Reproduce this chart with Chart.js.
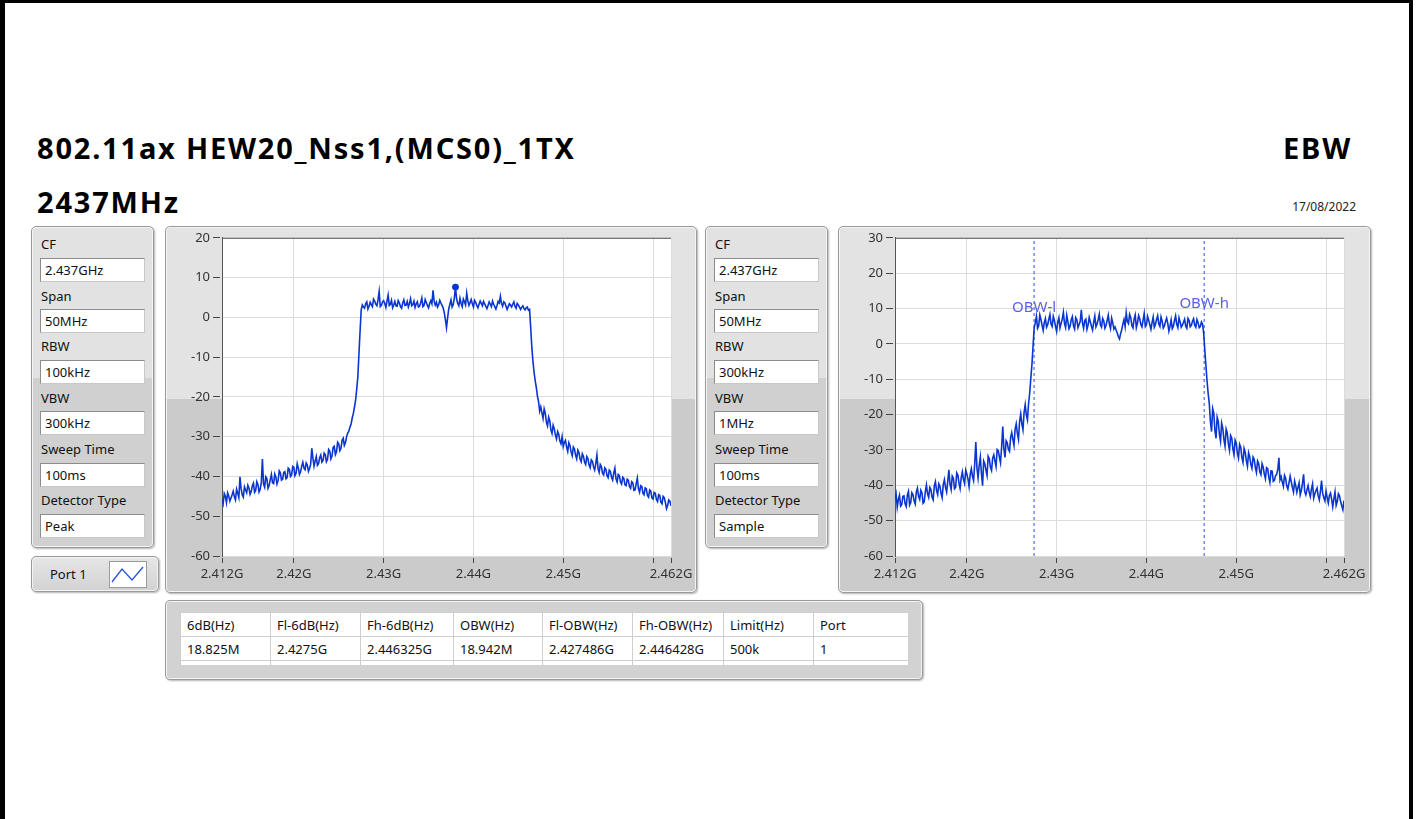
<!DOCTYPE html>
<html>
<head>
<meta charset="utf-8">
<title>EBW 802.11ax HEW20</title>
<script src="https://cdn.jsdelivr.net/npm/chart.js@4.4.1/dist/chart.umd.min.js"></script>
<style>
  html, body { margin: 0; padding: 0; background: #fff; }
  body { width: 1419px; height: 819px; position: relative; overflow: hidden; font-family: 'Noto Sans', 'Open Sans', sans-serif; color: #111; }
  .frame { position: absolute; left: 0; top: 0; width: 1413px; height: 840px; box-sizing: border-box; border-left: 5px solid #000; border-top: 3px solid #000; border-right: 4px solid #000; }
  .title { position: absolute; font-weight: 700; font-size: 29px; line-height: 29px; letter-spacing: 1.8px; white-space: nowrap; color: #000; }
  .date { position: absolute; font-size: 12px; line-height: 12px; right: 63px; top: 201px; color: #222; }
  .panel { position: absolute; box-sizing: border-box; border: 1px solid #9a9a9a; border-radius: 5px; box-shadow: inset 0 0 0 1px #f4f4f4, 1px 1px 2px rgba(0,0,0,0.3); }
  .params { top: 226px; width: 123px; height: 322px; background: linear-gradient(to bottom, #e2e2e2 0, #e2e2e2 151px, #d0d0d0 151px); }
  .params .lbl { position: absolute; left: 9px; font-size: 13px; line-height: 18px; color: #111; }
  .params .box { position: absolute; left: 8px; width: 105px; height: 24px; box-sizing: border-box; background: #fff; border: 1px solid #8c8c8c; border-right-color: #c8c8c8; border-bottom-color: #c8c8c8; font-size: 13px; line-height: 22px; padding-left: 4px; color: #111; }
  .chartpanel { top: 226px; height: 367px; background: linear-gradient(to bottom, #e3e3e3 0, #e3e3e3 172px, #cbcbcb 172px); }
  .chartpanel canvas { position: absolute; left: 0; top: 0; }
  .port { left: 31px; top: 556px; width: 128px; height: 36px; background: linear-gradient(to bottom, #e6e6e6, #d2d2d2); }
  .port span { position: absolute; left: 18px; top: 8px; font-size: 13px; line-height: 18px; }
  .port svg { position: absolute; left: 77px; top: 4px; }
  .tablepanel { left: 165px; top: 600px; width: 758px; height: 80px; background: #d2d2d2; }
  table { position: absolute; left: 14px; top: 11px; border-collapse: collapse; background: #fff; font-size: 13px; color: #111; }
  td { border: 1px solid #cfcfcf; height: 24px; padding: 0 0 0 6px; white-space: nowrap; box-sizing: border-box; }
  tr.stub td { height: 4px; border-bottom: none; }
</style>
</head>
<body>
<div class="frame"></div>

<div class="title" style="left:37px; top:133px;">802.11ax HEW20_Nss1,(MCS0)_1TX</div>
<div class="title" style="left:37px; top:187px;">2437MHz</div>
<div class="title" style="right:67px; top:133px;">EBW</div>
<div class="date">17/08/2022</div>

<div class="panel params" id="params-left" style="left:31px;"></div>
<div class="panel params" id="params-mid" style="left:705px;"></div>

<div class="panel port">
  <span>Port 1</span>
  <svg width="38" height="27" viewBox="0 0 38 27">
    <rect x="0.5" y="0.5" width="37" height="26" fill="#fff" stroke="#9a9a9a"/>
    <polyline points="3,21 13,8 23,19 34,6" fill="none" stroke="#2a52d6" stroke-width="1.3"/>
  </svg>
</div>

<div class="panel chartpanel" style="left:165px; width:532px;">
  <canvas id="chartPeak" width="530" height="365"></canvas>
</div>
<div class="panel chartpanel" style="left:838px; width:533px;">
  <canvas id="chartSample" width="531" height="365"></canvas>
</div>

<div class="panel tablepanel">
  <table id="resultTable"></table>
</div>

<script>
// sweep setup (x positions of the trace points)
const freqStartGHz = 2.412;
const freqStepGHz = 0.000125;

// Peak detector trace, RBW 100kHz (dBm)
const peakTraceDbm = [
  -45.8, -46.9, -44.3, -45.0, -46.6, -44.1, -44.9, -46.2, -45.4, -44.6,
  -43.7, -45.1, -45.9, -43.2, -44.2, -45.3, -40.1, -43.0, -44.6, -45.2,
  -42.6, -43.4, -44.1, -42.2, -42.9, -44.5, -43.8, -42.4, -41.7, -44.0,
  -43.5, -41.3, -42.0, -43.9, -43.2, -41.6, -35.6, -41.9, -42.7, -40.1,
  -40.6, -43.0, -42.3, -40.8, -39.5, -41.6, -41.8, -39.4, -40.2, -41.9,
  -41.0, -38.6, -39.1, -40.9, -40.7, -39.0, -38.8, -40.6, -40.3, -37.9,
  -38.2, -40.0, -39.6, -37.5, -37.7, -39.8, -39.2, -36.8, -37.9, -39.5,
  -38.8, -37.4, -36.4, -37.9, -38.3, -36.6, -37.1, -38.7, -38.0, -36.9,
  -32.9, -35.4, -37.4, -36.1, -35.0, -37.2, -36.8, -35.3, -34.6, -36.4,
  -36.0, -34.1, -34.5, -36.3, -35.7, -33.2, -33.6, -35.6, -34.9, -32.7,
  -32.4, -34.5, -33.8, -31.4, -31.8, -33.5, -32.9, -30.9, -30.4, -32.2,
  -31.5, -30.0, -29.1, -28.6, -27.6, -26.8, -25.3, -24.2, -22.6, -20.9,
  -18.1, -15.0, -9.2, -3.5, 1.9, 3.1, 2.6, 2.3, 3.4, 3.9,
  2.1, 2.8, 3.8, 3.2, 2.7, 4.6, 4.1, 3.3, 2.9, 4.4,
  6.5, 2.7, 3.0, 3.9, 4.2, 3.5, 2.5, 4.1, 5.6, 3.0,
  3.3, 4.3, 2.4, 3.1, 4.0, 2.9, 2.8, 4.2, 3.6, 2.7,
  2.3, 3.6, 4.4, 3.0, 3.1, 4.0, 2.6, 3.5, 4.7, 2.9,
  3.2, 4.1, 2.5, 3.4, 3.9, 2.6, 2.8, 3.7, 4.9, 2.7,
  3.0, 4.5, 3.7, 3.0, 2.4, 3.5, 4.2, 3.4, 6.8, 4.0,
  3.1, 3.8, 2.6, 3.2, 4.3, 3.6, 3.0, 2.4, 1.2, -0.5,
  -2.6, -0.1, 2.1, 3.3, 4.4, 2.6, 3.2, 4.9, 7.6, 4.6,
  3.5, 2.9, 4.8, 3.5, 2.7, 4.6, 3.9, 3.1, 6.1, 4.2,
  3.0, 3.7, 4.5, 3.4, 2.6, 4.3, 3.8, 3.0, 2.4, 3.3,
  4.1, 3.5, 2.9, 4.0, 3.4, 2.8, 2.2, 3.0, 3.9, 3.3,
  2.7, 4.1, 3.3, 2.7, 2.1, 3.0, 4.0, 3.6, 5.3, 3.5,
  2.8, 3.9, 3.6, 2.8, 2.0, 2.7, 3.4, 3.1, 2.6, 3.3,
  3.9, 2.8, 2.3, 3.5, 3.1, 2.6, 2.0, 2.5, 2.9, 2.2,
  1.9, 2.4, 2.6, 1.8, 2.0, -2.5, -7.5, -11.0, -13.8, -15.9,
  -17.6, -19.8, -21.2, -23.6, -22.5, -24.0, -25.4, -23.0, -24.1, -26.4,
  -27.3, -25.1, -26.0, -28.3, -29.2, -27.1, -28.0, -29.6, -30.6, -28.7,
  -29.4, -31.1, -31.8, -30.0, -32.5, -31.4, -30.9, -32.6, -33.7, -31.5,
  -32.2, -33.9, -34.8, -32.6, -33.1, -34.7, -35.6, -33.4, -34.0, -35.6,
  -36.3, -34.3, -34.9, -36.4, -37.0, -35.0, -35.5, -37.1, -37.8, -35.8,
  -36.2, -37.6, -38.4, -36.7, -34.6, -38.1, -39.0, -37.0, -37.5, -39.2,
  -39.6, -37.8, -38.2, -39.8, -40.3, -38.4, -38.7, -40.2, -40.9, -39.1,
  -37.9, -40.6, -41.4, -39.5, -39.8, -41.4, -41.9, -40.2, -40.5, -42.1,
  -42.3, -40.7, -41.0, -42.6, -43.0, -41.3, -41.6, -43.5, -43.4, -41.8,
  -40.4, -43.1, -44.0, -42.3, -42.5, -44.2, -44.6, -42.9, -43.1, -44.8,
  -45.2, -43.4, -43.7, -45.4, -45.7, -44.0, -44.2, -45.8, -46.3, -44.6,
  -44.8, -46.5, -46.9, -45.0, -45.3, -46.6, -48.1, -47.3, -45.9, -46.2,
  -47.4
];

// Sample detector trace, RBW 300kHz (dBm)
const sampleTraceDbm = [
  -44.1, -42.5, -46.2, -44.0, -42.8, -45.9, -45.5, -43.1, -43.0, -45.2,
  -46.0, -42.8, -41.7, -45.6, -44.9, -42.1, -42.6, -44.4, -45.3, -41.9,
  -40.8, -43.2, -44.0, -41.4, -42.1, -45.1, -44.7, -41.8, -39.9, -42.4,
  -43.4, -40.6, -41.2, -43.3, -44.1, -40.2, -39.0, -41.5, -42.6, -39.6,
  -40.3, -42.2, -43.5, -39.8, -38.4, -40.6, -41.9, -38.9, -35.6, -39.7,
  -41.2, -37.4, -38.0, -41.0, -40.6, -36.5, -37.1, -39.4, -40.9, -37.8,
  -36.2, -38.4, -39.5, -35.7, -36.8, -38.2, -40.4, -36.9, -35.3, -37.5,
  -38.7, -34.0, -27.8, -35.1, -37.9, -34.4, -32.0, -36.6, -40.1, -33.1,
  -33.9, -35.7, -37.2, -31.8, -32.5, -34.9, -35.8, -32.3, -31.4, -33.1,
  -34.7, -29.9, -30.2, -32.0, -33.6, -29.1, -23.4, -29.7, -32.1, -27.4,
  -28.0, -29.8, -30.4, -26.5, -25.1, -27.0, -28.7, -24.2, -22.6, -25.3,
  -27.0, -21.9, -19.8, -22.6, -24.3, -19.4, -17.2, -20.1, -21.5, -16.8,
  -13.9, -9.7, -5.8, -0.6, 4.6, 6.0, 7.8, 4.4, 5.1, 8.2,
  6.9, 5.3, 3.8, 6.1, 7.2, 4.7, 5.4, 6.9, 8.3, 5.6,
  4.9, 7.8, 6.6, 4.9, 3.5, 6.2, 7.4, 4.5, 5.8, 7.0,
  8.9, 5.7, 4.6, 8.1, 6.3, 4.3, 5.0, 6.8, 7.7, 5.1,
  4.2, 7.4, 6.8, 4.6, 5.5, 6.4, 9.6, 5.9, 4.4, 6.6,
  7.0, 4.1, 5.3, 7.5, 6.2, 5.0, 3.9, 6.1, 7.9, 4.8,
  5.6, 6.9, 8.4, 5.3, 4.7, 7.2, 6.5, 4.4, 5.2, 6.6,
  8.1, 5.5, 4.3, 7.3, 6.0, 4.2, 4.8, 3.9, 3.1, 2.0,
  1.4, 2.9, 4.0, 5.6, 6.9, 4.9, 8.8, 6.3, 5.7, 8.4,
  7.5, 5.2, 4.5, 7.0, 8.2, 4.6, 5.9, 8.0, 7.1, 5.5,
  4.8, 6.7, 8.6, 4.9, 5.4, 7.8, 6.7, 5.4, 4.1, 6.0,
  7.6, 4.7, 5.5, 6.9, 8.0, 5.6, 4.9, 7.6, 6.4, 4.5,
  5.1, 6.3, 7.3, 5.8, 3.6, 5.0, 6.8, 4.3, 5.0, 6.6,
  7.9, 5.5, 4.6, 7.4, 6.2, 4.7, 5.3, 6.1, 7.0, 5.0,
  4.4, 7.2, 6.6, 4.8, 5.2, 6.4, 7.1, 5.3, 4.7, 6.9,
  6.0, 4.6, 4.9, 6.2, 5.6, 3.0, -1.8, -6.2, -10.5, -14.1,
  -16.9, -22.0, -24.8, -18.3, -19.6, -24.5, -26.7, -20.7, -21.9, -25.6,
  -27.5, -22.4, -23.8, -27.0, -28.9, -24.1, -25.2, -28.3, -30.1, -25.9,
  -26.6, -29.7, -31.4, -27.2, -28.0, -30.9, -32.3, -28.4, -29.2, -32.1,
  -33.5, -29.6, -30.7, -33.0, -34.6, -30.8, -31.9, -34.1, -35.2, -32.0,
  -32.6, -35.0, -36.4, -33.1, -33.8, -36.2, -37.0, -33.9, -34.9, -36.8,
  -38.1, -35.0, -35.3, -37.7, -39.2, -35.9, -36.0, -38.9, -38.6, -37.3,
  -36.9, -35.6, -32.2, -38.5, -37.6, -39.1, -40.3, -37.2, -38.0, -40.2,
  -41.1, -39.3, -37.4, -39.0, -40.6, -41.9, -38.8, -40.1, -42.0, -40.6,
  -39.3, -42.7, -41.5, -39.4, -36.9, -41.8, -42.7, -41.3, -40.1, -42.0,
  -43.2, -41.1, -39.6, -43.6, -42.4, -41.5, -40.8, -43.0, -44.1, -41.7,
  -38.7, -42.3, -43.5, -44.4, -41.6, -43.5, -45.0, -42.9, -42.2, -44.0,
  -46.1, -43.8, -41.9, -45.7, -44.6, -42.4, -43.0, -44.6, -45.8, -46.9,
  -44.3
];

const xTickValues = [2.412, 2.42, 2.43, 2.44, 2.45, 2.46, 2.462];
const xTickLabels = ['2.412G', '2.42G', '2.43G', '2.44G', '2.45G', '', '2.462G'];

const peakMarker = { x: 2.438, y: 7.6 };
const obwFreqsGHz = [2.427486, 2.446428];
const obwLabels = ['OBW-l', 'OBW-h'];
const obwLabelLevels = [10.3, 11.4];

// setting panels
const paramNames = ['CF', 'Span', 'RBW', 'VBW', 'Sweep Time', 'Detector Type'];
const leftParams = ['2.437GHz', '50MHz', '100kHz', '300kHz', '100ms', 'Peak'];
const midParams = ['2.437GHz', '50MHz', '300kHz', '1MHz', '100ms', 'Sample'];

// result table
const tableHeaders = ['6dB(Hz)', 'Fl-6dB(Hz)', 'Fh-6dB(Hz)', 'OBW(Hz)', 'Fl-OBW(Hz)', 'Fh-OBW(Hz)', 'Limit(Hz)', 'Port'];
const tableValues = ['18.825M', '2.4275G', '2.446325G', '18.942M', '2.427486G', '2.446428G', '500k', '1'];
const tableColWidths = [90, 90, 93, 89, 90, 91, 90, 95];

function fillParams(id, values) {
  const panel = document.getElementById(id);
  const labelTops = [8, 60, 110, 162, 213, 264];
  const boxTops = [31, 82, 133, 184, 236, 287];
  paramNames.forEach(function (name, i) {
    const lbl = document.createElement('div');
    lbl.className = 'lbl';
    lbl.style.top = labelTops[i] + 'px';
    lbl.textContent = name;
    panel.appendChild(lbl);
    const box = document.createElement('div');
    box.className = 'box';
    box.style.top = boxTops[i] + 'px';
    box.textContent = values[i];
    panel.appendChild(box);
  });
}
fillParams('params-left', leftParams);
fillParams('params-mid', midParams);

const table = document.getElementById('resultTable');
function addRow(cells, cls) {
  const tr = document.createElement('tr');
  if (cls) tr.className = cls;
  cells.forEach(function (text, i) {
    const td = document.createElement('td');
    td.style.width = tableColWidths[i] + 'px';
    td.textContent = text;
    tr.appendChild(td);
  });
  table.appendChild(tr);
}
addRow(tableHeaders);
addRow(tableValues);
addRow(tableHeaders.map(function () { return ''; }), 'stub');

Chart.defaults.font.family = "'Noto Sans', 'Open Sans', sans-serif";
Chart.defaults.font.size = 13;
Chart.defaults.color = '#333';

function toPoints(values) {
  return values.map(function (v, i) {
    return { x: freqStartGHz + i * freqStepGHz, y: v };
  });
}

const plotFrame = {
  id: 'plotFrame',
  beforeDraw(chart) {
    const a = chart.chartArea, ctx = chart.ctx;
    ctx.save();
    ctx.fillStyle = '#fff';
    ctx.fillRect(a.left, a.top, a.right - a.left, a.bottom - a.top);
    ctx.restore();
  },
  afterDraw(chart) {
    const a = chart.chartArea, ctx = chart.ctx;
    ctx.save();
    ctx.strokeStyle = '#555';
    ctx.lineWidth = 1;
    ctx.beginPath();
    ctx.moveTo(a.left, a.top + 0.5);
    ctx.lineTo(a.right, a.top + 0.5);
    ctx.stroke();
    ctx.restore();
  }
};

const obwText = {
  id: 'obwText',
  afterDatasetsDraw(chart, args, opts) {
    if (!opts.show) return;
    const ctx = chart.ctx;
    ctx.save();
    ctx.fillStyle = '#5a5fe6';
    ctx.font = "15px 'Noto Sans', sans-serif";
    ctx.textAlign = 'center';
    ctx.textBaseline = 'middle';
    obwLabels.forEach(function (t, i) {
      ctx.fillText(t, chart.scales.x.getPixelForValue(obwFreqsGHz[i]), chart.scales.y.getPixelForValue(obwLabelLevels[i]));
    });
    ctx.restore();
  }
};

function makeChart(canvasId, datasets, yMin, yMax, padRight, showObw) {
  return new Chart(document.getElementById(canvasId), {
    type: 'line',
    data: { datasets: datasets },
    options: {
      responsive: false,
      animation: false,
      layout: { padding: { top: 9, right: padRight, left: 0, bottom: 0 } },
      plugins: { legend: { display: false }, tooltip: { enabled: false }, obwText: { show: showObw } },
      elements: { point: { radius: 0 }, line: { tension: 0 } },
      scales: {
        x: {
          type: 'linear',
          min: 2.412,
          max: 2.462,
          afterBuildTicks: function (axis) { axis.ticks = xTickValues.map(function (v) { return { value: v }; }); },
          afterFit: function (axis) { axis.height = 36; },
          ticks: {
            autoSkip: false, maxRotation: 0, padding: 3, color: '#333',
            callback: function (v, i) { return xTickLabels[i]; }
          },
          grid: { color: '#dcdcdc', tickColor: '#444', tickLength: 7, tickBorderDash: [0, 2, 5, 30] },
          border: { display: false }
        },
        y: {
          min: yMin,
          max: yMax,
          afterFit: function (axis) { axis.width = 56; },
          ticks: { stepSize: 10, padding: 3, color: '#333' },
          grid: { color: '#dcdcdc', tickColor: '#444', tickLength: 9, tickBorderDash: [7, 30] },
          border: { display: true, color: '#555' }
        }
      }
    },
    plugins: [plotFrame, obwText]
  });
}

const traceStyle = { borderColor: '#0a35cf', borderWidth: 1.6, pointRadius: 0, fill: false };

makeChart('chartPeak', [
  Object.assign({ data: toPoints(peakTraceDbm) }, traceStyle),
  { type: 'scatter', data: [peakMarker], pointRadius: 3, pointBackgroundColor: '#0a35cf', pointBorderColor: '#0a35cf', showLine: false }
], -60, 20, 25, false);

const obwLines = obwFreqsGHz.map(function (f) {
  return { data: [{ x: f, y: -60 }, { x: f, y: 30 }], borderColor: '#2a4fd8', borderWidth: 1, borderDash: [3, 3], pointRadius: 0 };
});

makeChart('chartSample', [
  Object.assign({ data: toPoints(sampleTraceDbm) }, traceStyle)
].concat(obwLines), -60, 30, 26, true);
</script>
</body>
</html>
